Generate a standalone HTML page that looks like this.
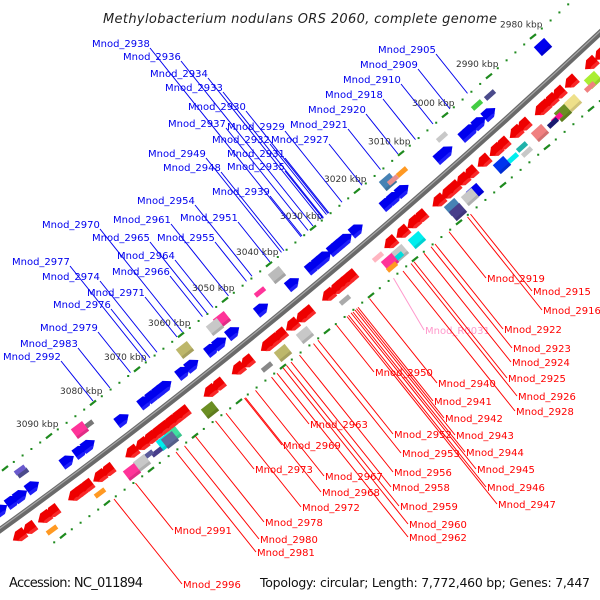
<!DOCTYPE html>
<html><head><meta charset="utf-8"><style>
body{margin:0;background:#fff;}
svg{display:block;}
text{font-family:"DejaVu Sans","Liberation Sans",sans-serif;}
</style></head><body>
<svg id="map" width="600" height="600" viewBox="0 0 600 600" xmlns="http://www.w3.org/2000/svg">
<text x="300" y="23" text-anchor="middle" font-size="13" font-style="italic" fill="#222" textLength="394">Methylobacterium nodulans ORS 2060, complete genome</text>
<g id="dots"></g>
<path d="M-5,533.6 Q300,314.5 605,28.2" stroke="#6a6a6a" stroke-width="6" fill="none"/>
<path d="M-5,532 Q300,312.9 605,26.6" stroke="#a8a8a8" stroke-width="1.2" fill="none"/>
<g id="genes"></g>
<g id="labels"></g>
<text x="9" y="587" font-size="13" fill="#111" textLength="134">Accession: NC_011894</text>
<text x="260" y="587" font-size="12.5" fill="#111" textLength="330">Topology: circular; Length: 7,772,460 bp; Genes: 7,447</text>
</svg>
<script>
// tick labels (kbp)
const tickKbp = [2980,2990,3000,3010,3020,3030,3040,3050,3060,3070,3080,3090];
// blue (forward strand) arrows: backbone x
const blueArrows = [10,22,30,42,77,90,98,132,155,163,170,175,193,202,222,230,243,272,303,323,330,335,345,350,356,367,398,405,413,452,457,477,482,490,500];
// red (reverse strand) arrows: backbone x
const redArrows = [10,20,35,43,65,70,77,90,98,122,132,140,147,153,160,167,173,200,208,228,237,257,263,270,282,292,297,318,326,330,335,340,380,392,403,410,428,437,443,452,460,473,485,492,505,513,530,533,540,548,560,580,590,598];
// misc features: x, y, color, kind
const featX = [442,477,490,543,402,388,393,277,260,222,215,185,88,80,23,20,593,590,573,563,557,553,540,522,527,513,502,475,470,453,458,417,400,398,390,392,378,305,283,267,210,173,165,170,157,148,142,132,100,52,345];
const featY = [137,105,95,47,172,182,180,275,292,320,327,350,425,430,473,470,80,87,103,113,118,123,133,147,152,158,165,192,197,207,212,240,253,257,262,267,257,335,353,367,410,435,442,440,452,455,463,472,493,530,300];
const featC = ['#c8c8c8','#44cc44','#4b4b8b','#0000ee','#ff9922','#4682b4','#e89090','#bbbbbb','#ff3399','#ff3399','#c8c8c8','#bdb76b','#777','#ff3399','#4b4b8b','#6a5acd','#aaee33','#f08080','#eee08a','#6b8e23','#ff1493','#191970','#f08080','#20b2aa','#c8c8c8','#00eeee','#0033ee','#0000ee','#c8c8c8','#4682b4','#483d8b','#00eeee','#c8c8c8','#00dddd','#ff3399','#ff9922','#ffb6c1','#c8c8c8','#bdb76b','#888','#6b8e23','#40e0a0','#00eeee','#5f6d9b','#483d8b','#5a5a9a','#c8c8c8','#ff3399','#ff9922','#ff9922','#aaa'];
const featK = ['bar','bar','bar','box','bar','box','bar','box','bar','box','box','box','bar','box','bar','bar','box','bar','box','box','bar','bar','box','bar','bar','bar','box','box','box','box','box','box','box','bar','box','bar','bar','box','box','bar','box','box','box','box','bar','bar','box','box','bar','bar','bar'];
// blue labels: text, left x, baseline y
const blueNames = ['Mnod_2938','Mnod_2936','Mnod_2934','Mnod_2933','Mnod_2930','Mnod_2937','Mnod_2929','Mnod_2932','Mnod_2927','Mnod_2931','Mnod_2935','Mnod_2949','Mnod_2948','Mnod_2939','Mnod_2954','Mnod_2951','Mnod_2961','Mnod_2955','Mnod_2965','Mnod_2970','Mnod_2964','Mnod_2966','Mnod_2977','Mnod_2974','Mnod_2971','Mnod_2976','Mnod_2979','Mnod_2983','Mnod_2992','Mnod_2921','Mnod_2920','Mnod_2918','Mnod_2910','Mnod_2909','Mnod_2905'];
const blueX = [92,123,150,165,188,168,227,212,271,227,227,148,163,212,137,180,113,157,92,42,117,112,12,42,87,53,40,20,3,290,308,325,343,360,378];
const blueY = [47,60,77,91,110,127,130,143,143,157,170,157,171,195,204,221,223,241,241,228,259,275,265,280,296,308,331,347,360,128,113,98,83,68,53];
// red labels
const redNames = ['Mnod_2919','Mnod_2915','Mnod_2916','Mnod_R0031','Mnod_2922','Mnod_2923','Mnod_2924','Mnod_2925','Mnod_2926','Mnod_2928','Mnod_2950','Mnod_2940','Mnod_2941','Mnod_2942','Mnod_2943','Mnod_2944','Mnod_2945','Mnod_2946','Mnod_2947','Mnod_2963','Mnod_2952','Mnod_2953','Mnod_2969','Mnod_2956','Mnod_2958','Mnod_2973','Mnod_2967','Mnod_2968','Mnod_2959','Mnod_2972','Mnod_2960','Mnod_2962','Mnod_2978','Mnod_2991','Mnod_2980','Mnod_2981','Mnod_2996'];
const redX = [487,533,543,425,504,513,512,508,518,516,375,438,434,445,456,466,477,487,498,310,394,402,283,394,392,255,325,322,400,302,409,409,265,174,260,257,183];
const redY = [282,295,314,334,333,352,366,382,400,415,376,387,405,422,439,456,473,491,508,428,438,457,449,476,491,473,480,496,510,511,528,541,526,534,543,556,588];

const NS='http://www.w3.org/2000/svg';
function by(x){return 530-0.718*x-0.000183*x*x;}
function slope(x){return -0.718-0.000366*x;}
function yu(x){return 472-0.727*x-0.000169*x*x;}
function yl(x){return 582-0.725*x-0.000128*x*x;}
function kx(k){return 533-4.4*(k-2980);}
function mk(tag,attrs,parent){const e=document.createElementNS(NS,tag);for(const k in attrs)e.setAttribute(k,attrs[k]);parent.appendChild(e);return e;}
function pt(x,d){const m=slope(x);const n=Math.sqrt(1+m*m);return [x+d*(-m)/n, by(x)+d/n];}
function ang(x){return Math.atan(slope(x))*180/Math.PI;}

const dots=document.getElementById('dots');
for(let k=2970;k<=3102;k+=2){
  const major=(k%10===0);
  [[kx(k),yu],[kx(k)+58,yl]].forEach(([x,f],i)=>{
    if(x<-5||x>605)return;
    const y=f(x);
    let e;
    if(major){
      e=mk('line',{x1:x-3,y1:y+2.4,x2:x+3,y2:y-2.4,stroke:'#1e8a1e','stroke-width':2.2},dots);
      
    } else {
      e=mk('rect',{x:x-1,y:y-1,width:2,height:2,fill:'#1e8a1e'},dots);
      
    }
    
  });
}
tickKbp.forEach(k=>{
  const x=kx(k);
  const t=mk('text',{x:x-33,y:yu(x)-9,'font-size':9,fill:'#333'},dots);
  t.textContent=k+' kbp';
  
  
});

const genes=document.getElementById('genes');
featX.forEach((x,i)=>{
  const y=featY[i];
  const a=ang(x);
  const g=mk('g',{transform:`translate(${x},${y}) rotate(${a})`},genes);
  
  
  if(featK[i]==='box'){
    mk('rect',{x:-7,y:-6,width:14,height:12,fill:featC[i]},g);
    mk('rect',{x:-7,y:3,width:14,height:3,fill:'#000',opacity:0.12},g);
  } else {
    mk('rect',{x:-6,y:-2.5,width:12,height:5,fill:featC[i]},g);
  }
});
blueArrows.forEach(x=>{
  const [px,py]=pt(x,-16);
  const g=mk('g',{transform:`translate(${px},${py}) rotate(${ang(x)}) scale(1.15)`},genes);
  
  
  mk('polygon',{points:'-6,-5 1,-5 7,0 1,5 -6,5',fill:'#0000ee'},g);
  mk('polygon',{points:'-6,2 1,2 4,3 1,5 -6,5',fill:'#3333ff',opacity:0.6},g);
});
redArrows.forEach(x=>{
  const [px,py]=pt(x,16);
  const g=mk('g',{transform:`translate(${px},${py}) rotate(${ang(x)}) scale(1.15)`},genes);
  
  
  mk('polygon',{points:'6,-5 -1,-5 -7,0 -1,5 6,5',fill:'#ee0000'},g);
  mk('polygon',{points:'6,2 -1,2 -4,3 -1,5 6,5',fill:'#ff4444',opacity:0.6},g);
});

const labels=document.getElementById('labels');
const S=1.25;
blueNames.forEach((n,i)=>{
  const t=mk('text',{x:blueX[i],y:blueY[i],'font-size':10,fill:'#0000ee'},labels);
  t.textContent=n;
  
  
  const sx=blueX[i]+58, sy=blueY[i]+1;
  let x=sx;
  while(x<600 && sy+S*(x-sx)<yu(x)-2) x+=0.5;
  const l=mk('line',{x1:sx,y1:sy,x2:x,y2:sy+S*(x-sx),stroke:'#0000ee','stroke-width':1},labels);
  
  
});
redNames.forEach((n,i)=>{
  const pink=n.indexOf('R0')>=0;
  const col=pink?'#ff99cc':'#ff0000';
  const t=mk('text',{x:redX[i],y:redY[i],'font-size':10,fill:col},labels);
  t.textContent=n;
  
  
  const ex=redX[i]-1, ey=redY[i]-4;
  const s=pink?1.7:S;
  let x=ex;
  while(x>0 && ey-s*(ex-x)>yl(x)+2) x-=0.5;
  const l=mk('line',{x1:x,y1:ey-s*(ex-x),x2:ex,y2:ey,stroke:col,'stroke-width':1},labels);
  
  
});
</script>
</body></html>
